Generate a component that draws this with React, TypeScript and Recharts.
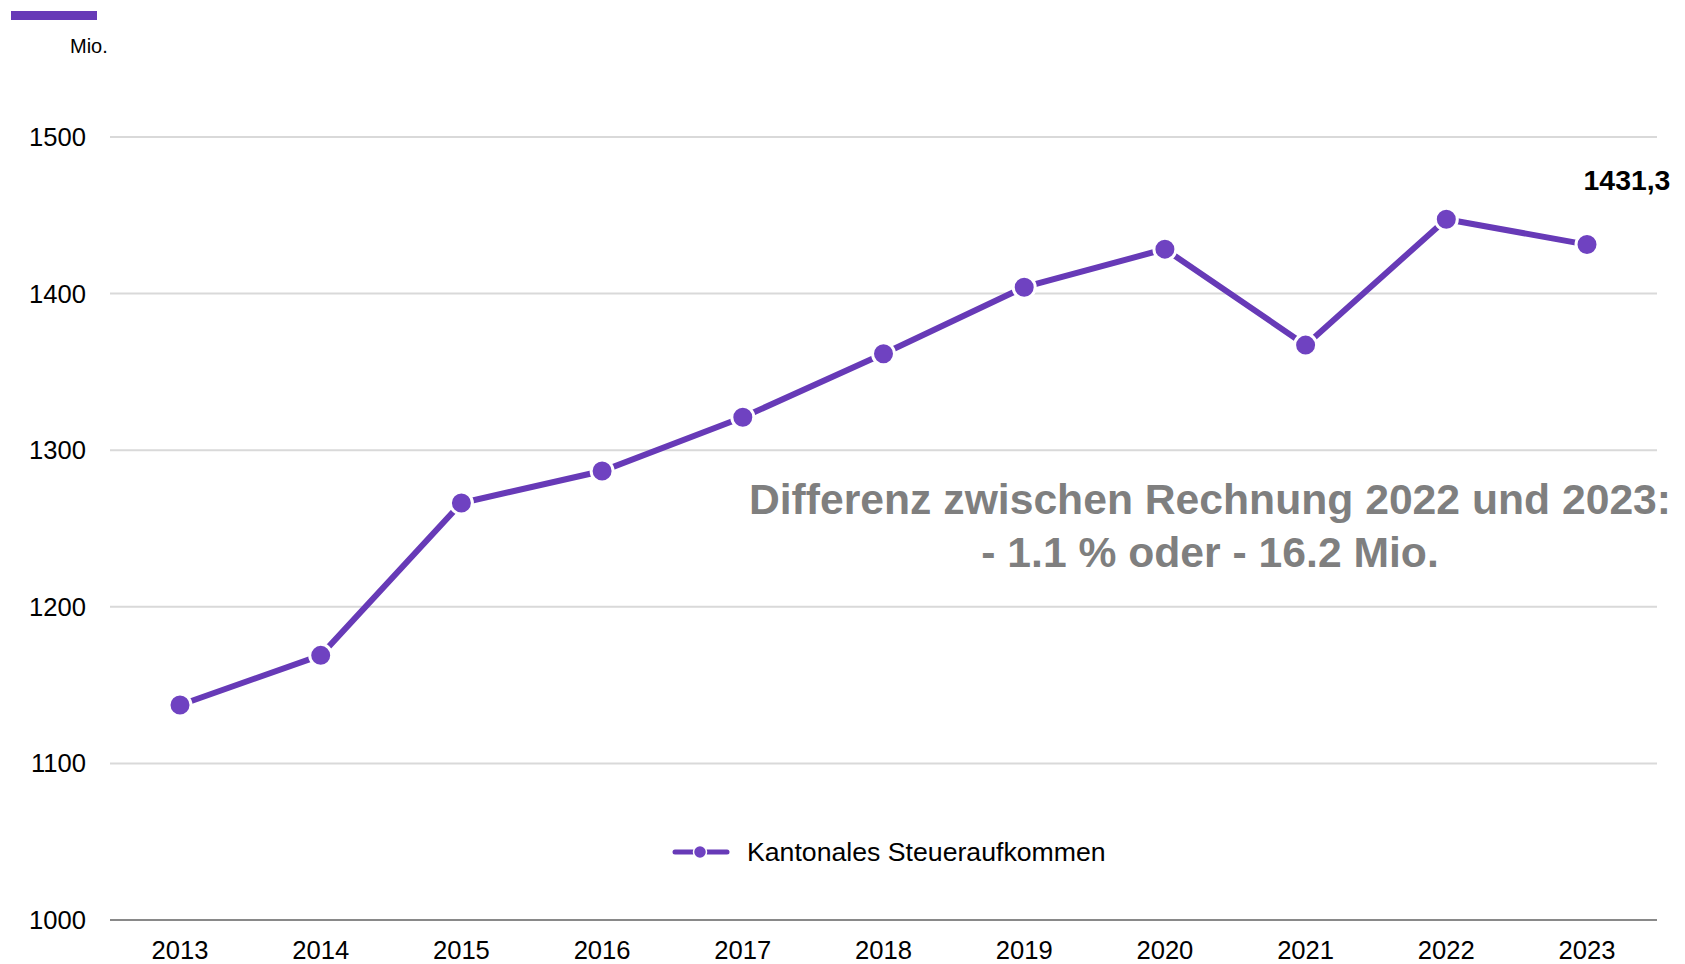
import React from 'react';
import { LineChart, Line, XAxis, YAxis, CartesianGrid, Legend } from 'recharts';

const years = ['2013', '2014', '2015', '2016', '2017', '2018', '2019', '2020', '2021', '2022', '2023'];
const values = [1137.3, 1169.0, 1266.3, 1286.7, 1321.0, 1361.6, 1404.1, 1428.4, 1367.1, 1447.5, 1431.3];
const yTicks = [1000, 1100, 1200, 1300, 1400, 1500];
const seriesName = 'Kantonales Steueraufkommen';
const unitLabel = 'Mio.';
const noteLine1 = 'Differenz zwischen Rechnung 2022 und 2023:';
const noteLine2 = '- 1.1 % oder - 16.2 Mio.';

const data = years.map((y, i) => ({ year: y, value: values[i] }));

const FONT = '"Liberation Sans", Arial, sans-serif';
const LINE_COLOR = '#673AB7';
const DOT_COLOR = '#6F42C1';

const renderLastLabel = (props: any) => {
  const { x, y, index, value } = props;
  if (index !== values.length - 1) return null;
  return (
    <text
      x={x + 40}
      y={y - 65}
      textAnchor="middle"
      dominantBaseline="central"
      fontFamily={FONT}
      fontWeight="bold"
      fontSize={28.4}
      fill="#000"
    >
      {String(value).replace('.', ',')}
    </text>
  );
};

const renderLegend = () => (
  <div style={{ display: 'flex', alignItems: 'center', height: 32, fontFamily: FONT, fontSize: 26.67, color: '#000', whiteSpace: 'nowrap' }}>
    <svg width={58} height={20} style={{ display: 'block' }}>
      <line x1={3} y1={10} x2={55} y2={10} stroke={LINE_COLOR} strokeWidth={5} strokeLinecap="round" />
      <circle cx={28} cy={10} r={6.5} fill={DOT_COLOR} stroke="#fff" strokeWidth={1.5} />
    </svg>
    <span style={{ marginLeft: 17 }}>{seriesName}</span>
  </div>
);

export default function App() {
  return (
    <div style={{ position: 'absolute', left: 0, top: 0, width: 1685, height: 964, background: '#fff' }}>
      <div style={{ position: 'absolute', left: 11, top: 11, width: 86, height: 9, background: LINE_COLOR }} />
      <div style={{ position: 'absolute', left: 70, top: 32, fontFamily: FONT, fontSize: 20, lineHeight: '28px', color: '#000' }}>
        {unitLabel}
      </div>
      <LineChart width={1685} height={964} data={data} margin={{ top: 137, right: 28, bottom: 0, left: 0 }}>
        <CartesianGrid vertical={false} stroke="#d9d9d9" strokeWidth={2} />
        <XAxis
          dataKey="year"
          height={44}
          interval={0}
          padding={{ left: 70, right: 70 }}
          tickLine={false}
          tickSize={0}
          tickMargin={21}
          axisLine={{ stroke: '#898989', strokeWidth: 2 }}
          tick={{ fill: '#000', fontSize: 25.6, fontFamily: FONT }}
        />
        <YAxis
          width={110}
          domain={[1000, 1500]}
          ticks={yTicks}
          interval={0}
          axisLine={false}
          tickLine={false}
          tickSize={0}
          tickMargin={24}
          tick={{ fill: '#000', fontSize: 25.6, fontFamily: FONT }}
        />
        <Legend
          layout="horizontal"
          verticalAlign="middle"
          align="center"
          wrapperStyle={{ top: 836, left: 672, width: 'auto' }}
          content={renderLegend}
        />
        <Line
          type="linear"
          dataKey="value"
          name={seriesName}
          stroke={LINE_COLOR}
          strokeWidth={6}
          dot={{ r: 11, fill: DOT_COLOR, stroke: '#fff', strokeWidth: 3 }}
          activeDot={false}
          isAnimationActive={false}
          label={renderLastLabel}
        />
      </LineChart>
      <div
        style={{
          position: 'absolute',
          left: 710,
          top: 473,
          width: 1000,
          textAlign: 'center',
          fontFamily: FONT,
          fontWeight: 'bold',
          fontSize: 42.67,
          lineHeight: '53px',
          color: '#7f7f7f',
          pointerEvents: 'none',
        }}
      >
        <div>{noteLine1}</div>
        <div>{noteLine2}</div>
      </div>
    </div>
  );
}
